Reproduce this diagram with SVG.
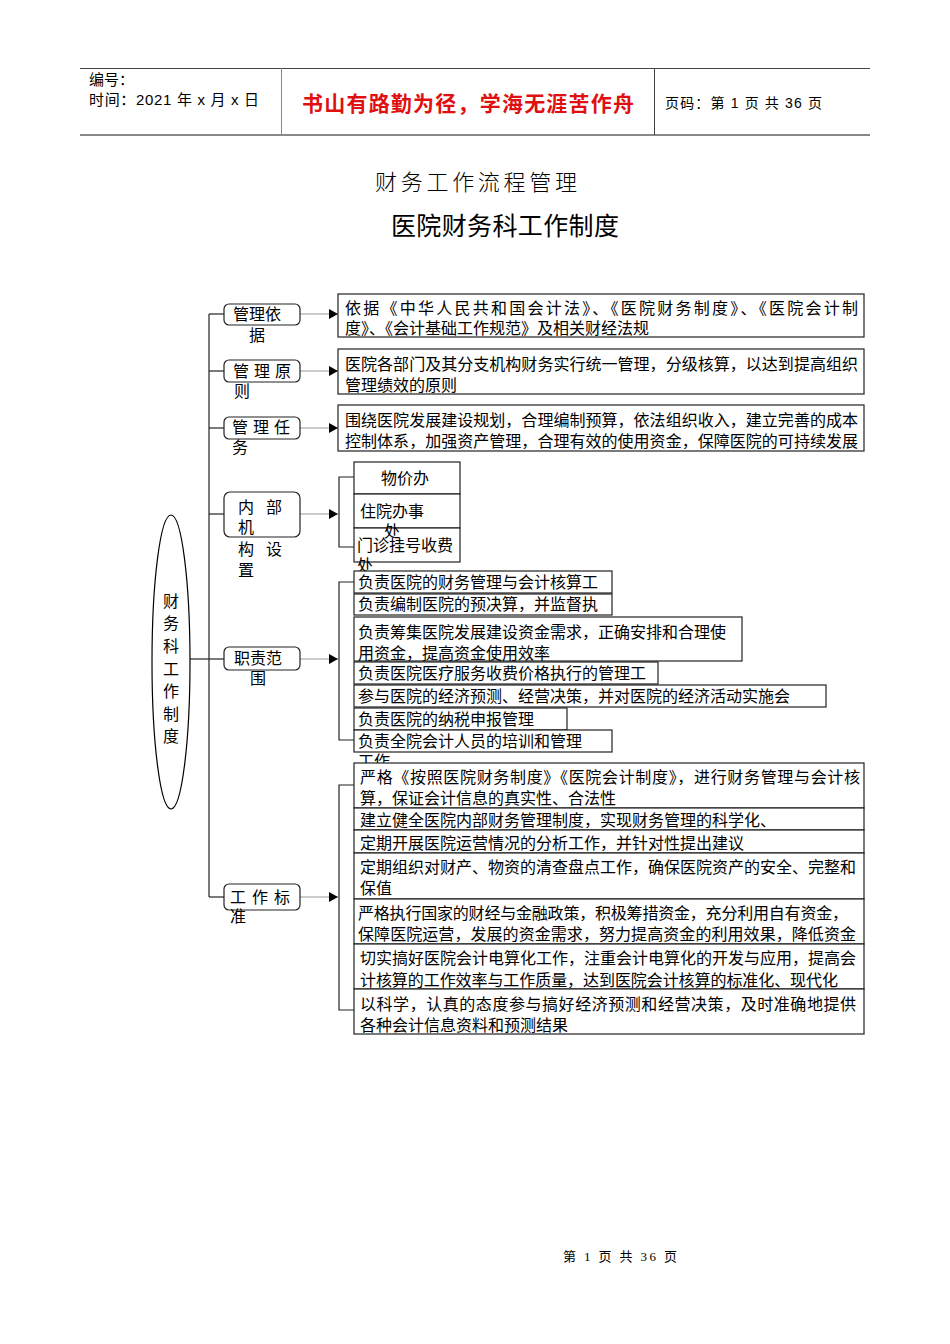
<svg xmlns="http://www.w3.org/2000/svg" width="950" height="1344" viewBox="0 0 950 1344">
<style>
text{font-family:"Liberation Sans","Noto Sans CJK SC",sans-serif;fill:#000;}
.t{font-size:16px;}
.box{fill:#fff;stroke:#222;stroke-width:1.2;}
.node{fill:#fff;stroke:#222;stroke-width:1.2;}
.ln{fill:none;stroke:#222;stroke-width:1.2;}
.gl{fill:none;stroke:#999;stroke-width:1;}
</style>
<defs>
<marker id="ah" markerWidth="10" markerHeight="10" refX="9" refY="5" orient="auto" markerUnits="userSpaceOnUse">
<path d="M0,0 L9,5 L0,10 Z" fill="#000"/>
</marker>
</defs>
<rect width="950" height="1344" fill="#fff"/>
<g id="header">
<line x1="80" y1="68.5" x2="870" y2="68.5" stroke="#444" stroke-width="1"/>
<line x1="80" y1="135" x2="870" y2="135" stroke="#888" stroke-width="2"/>
<line x1="281.5" y1="68" x2="281.5" y2="135" stroke="#888" stroke-width="1"/>
<line x1="654.5" y1="68" x2="654.5" y2="135" stroke="#444" stroke-width="1"/>
<text x="89" y="85" font-size="15">编号：</text>
<text x="89" y="105" font-size="15" textLength="170">时间：2021 年 x 月 x 日</text>
<text x="302" y="111" font-size="21" font-weight="bold" style="fill:#e01010" textLength="332">书山有路勤为径，学海无涯苦作舟</text>
<text x="665" y="108" font-size="14" textLength="157">页码：第 1 页 共 36 页</text>
</g>
<g id="titles">
<text x="375" y="190" font-size="22" textLength="202" style="font-weight:300">财务工作流程管理</text>
<text x="391" y="235" font-size="25" textLength="228">医院财务科工作制度</text>
</g>
<g id="connectors">
<line class="ln" x1="190" y1="659" x2="209" y2="659"/>
<line class="ln" x1="209" y1="314" x2="209" y2="897"/>
<line class="ln" x1="209" y1="314" x2="224" y2="314"/>
<line class="ln" x1="209" y1="371" x2="224" y2="371"/>
<line class="ln" x1="209" y1="428" x2="224" y2="428"/>
<line class="ln" x1="209" y1="514" x2="224" y2="514"/>
<line class="ln" x1="209" y1="659" x2="224" y2="659"/>
<line class="ln" x1="209" y1="897" x2="224" y2="897"/>
<line class="gl" x1="300" y1="314" x2="338" y2="314" marker-end="url(#ah)"/>
<line class="gl" x1="300" y1="371" x2="338" y2="371" marker-end="url(#ah)"/>
<line class="gl" x1="300" y1="428" x2="338" y2="428" marker-end="url(#ah)"/>
<line class="gl" x1="300" y1="514" x2="338" y2="514" marker-end="url(#ah)"/>
<line class="gl" x1="300" y1="659" x2="338" y2="659" marker-end="url(#ah)"/>
<line class="gl" x1="300" y1="897" x2="338" y2="897" marker-end="url(#ah)"/>
<path class="ln" d="M354,477 H339 V547 H354"/>
<path class="ln" d="M354,582 H339 V740 H354"/>
<path class="ln" d="M354,785 H339 V1010 H354"/>
</g>
<g id="root">
<ellipse cx="171" cy="662" rx="19" ry="147" fill="#fff" stroke="#000" stroke-width="1.2"/>
<g class="t" text-anchor="middle">
<text x="171" y="607">财</text>
<text x="171" y="629">务</text>
<text x="171" y="652">科</text>
<text x="171" y="675">工</text>
<text x="171" y="697">作</text>
<text x="171" y="720">制</text>
<text x="171" y="742">度</text>
</g>
</g>
<g id="n1">
<rect class="node" x="224" y="304" width="76" height="21" rx="5"/>
<text class="t" x="233" y="320">管理依</text>
<text class="t" x="249" y="341">据</text>
</g>
<g id="n2">
<rect class="node" x="224" y="360" width="76" height="22" rx="5"/>
<text class="t" x="233" y="377" textLength="58">管 理 原</text>
<text class="t" x="234" y="397">则</text>
</g>
<g id="n3">
<rect class="node" x="224" y="417" width="76" height="22" rx="5"/>
<text class="t" x="232" y="433" textLength="58">管 理 任</text>
<text class="t" x="232" y="453">务</text>
</g>
<g id="n4">
<rect class="node" x="224" y="492" width="76" height="45" rx="6"/>
<text class="t" x="238" y="513" textLength="44">内  部</text>
<text class="t" x="238" y="533">机</text>
<text class="t" x="238" y="555" textLength="44">构  设</text>
<text class="t" x="238" y="576">置</text>
</g>
<g id="n5">
<rect class="node" x="224" y="647" width="76" height="23" rx="5"/>
<text class="t" x="234" y="664">职责范</text>
<text class="t" x="250" y="684">围</text>
</g>
<g id="n6">
<rect class="node" x="224" y="884" width="76" height="26" rx="5"/>
<text class="t" x="230" y="903" textLength="60">工 作 标</text>
<text class="t" x="230" y="922">准</text>
</g>
<g id="r1">
<rect class="box" x="338" y="294" width="526" height="43"/>
<text class="t" x="345" y="314" textLength="513">依据《中华人民共和国会计法》、《医院财务制度》、《医院会计制</text>
<text class="t" x="345" y="334">度》、《会计基础工作规范》及相关财经法规</text>
</g>
<g id="r2">
<rect class="box" x="338" y="349" width="526" height="45"/>
<text class="t" x="345" y="370" textLength="513">医院各部门及其分支机构财务实行统一管理，分级核算，以达到提高组织</text>
<text class="t" x="345" y="391">管理绩效的原则</text>
</g>
<g id="r3">
<rect class="box" x="338" y="405" width="526" height="46"/>
<text class="t" x="345" y="426" textLength="513">围绕医院发展建设规划，合理编制预算，依法组织收入，建立完善的成本</text>
<text class="t" x="345" y="447" textLength="513">控制体系，加强资产管理，合理有效的使用资金，保障医院的可持续发展</text>
</g>
<g id="org">
<rect class="box" x="354" y="462" width="106" height="32"/>
<text class="t" x="405" y="484" text-anchor="middle">物价办</text>
<rect class="box" x="354" y="494" width="106" height="34"/>
<rect class="box" x="354" y="528" width="106" height="34"/>
<text class="t" x="360" y="517">住院办事</text>
<text class="t" x="384" y="537">处</text>
<text class="t" x="357" y="551">门诊挂号收费</text>
<text class="t" x="357" y="571">处</text>
</g>
<g id="duties">
<rect class="box" x="354" y="571" width="258" height="22"/>
<text class="t" x="358" y="588">负责医院的财务管理与会计核算工</text>
<rect class="box" x="354" y="594" width="258" height="21"/>
<text class="t" x="358" y="610">负责编制医院的预决算，并监督执</text>
<rect class="box" x="354" y="617" width="388" height="44"/>
<text class="t" x="358" y="638">负责筹集医院发展建设资金需求，正确安排和合理使</text>
<text class="t" x="358" y="659">用资金，提高资金使用效率</text>
<rect class="box" x="354" y="662" width="304" height="22"/>
<text class="t" x="358" y="679">负责医院医疗服务收费价格执行的管理工</text>
<rect class="box" x="354" y="685" width="472" height="22"/>
<text class="t" x="358" y="702">参与医院的经济预测、经营决策，并对医院的经济活动实施会</text>
<rect class="box" x="354" y="708" width="213" height="22"/>
<text class="t" x="358" y="725">负责医院的纳税申报管理</text>
<rect class="box" x="354" y="730" width="258" height="22"/>
<text class="t" x="358" y="747">负责全院会计人员的培训和管理</text>
<text class="t" x="358" y="767">工作</text>
</g>
<g id="standards">
<rect class="box" x="354" y="763" width="510" height="45"/>
<text class="t" x="360" y="783" textLength="500">严格《按照医院财务制度》《医院会计制度》，进行财务管理与会计核</text>
<text class="t" x="360" y="804">算，保证会计信息的真实性、合法性</text>
<rect class="box" x="354" y="808" width="510" height="22"/>
<text class="t" x="360" y="826">建立健全医院内部财务管理制度，实现财务管理的科学化、</text>
<rect class="box" x="354" y="830" width="510" height="23"/>
<text class="t" x="360" y="849">定期开展医院运营情况的分析工作，并针对性提出建议</text>
<rect class="box" x="354" y="853" width="510" height="46"/>
<text class="t" x="360" y="873" textLength="496">定期组织对财产、物资的清查盘点工作，确保医院资产的安全、完整和</text>
<text class="t" x="360" y="894">保值</text>
<rect class="box" x="354" y="899" width="510" height="45"/>
<text class="t" x="358" y="919" textLength="490">严格执行国家的财经与金融政策，积极筹措资金，充分利用自有资金，</text>
<text class="t" x="358" y="940" textLength="498">保障医院运营，发展的资金需求，努力提高资金的利用效果，降低资金</text>
<rect class="box" x="354" y="944" width="510" height="45"/>
<text class="t" x="360" y="964" textLength="496">切实搞好医院会计电算化工作，注重会计电算化的开发与应用，提高会</text>
<text class="t" x="360" y="986" textLength="478">计核算的工作效率与工作质量，达到医院会计核算的标准化、现代化</text>
<rect class="box" x="354" y="989" width="510" height="45"/>
<text class="t" x="360" y="1010" textLength="496">以科学，认真的态度参与搞好经济预测和经营决策，及时准确地提供</text>
<text class="t" x="360" y="1031">各种会计信息资料和预测结果</text>
</g>
<g id="footer">
<text x="563" y="1261" font-size="13" textLength="114" style="font-family:'Liberation Serif','Noto Sans CJK SC',serif">第 1 页 共 36 页</text>
</g>
</svg>
